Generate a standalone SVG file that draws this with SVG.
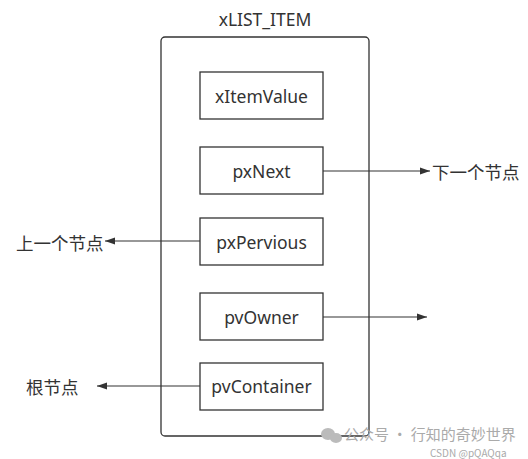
<svg xmlns="http://www.w3.org/2000/svg" width="528" height="459" viewBox="0 0 528 459">
<style>
.box{fill:#fff;stroke:#333;stroke-width:1.3}
.t{font-family:"Noto Sans","Liberation Sans",sans-serif;font-size:17.5px;fill:#333;text-anchor:middle;dominant-baseline:central}
.cn{font-family:"Noto Sans CJK SC",sans-serif;font-size:17.5px;fill:#333;dominant-baseline:central}
.ln{stroke:#333;stroke-width:1.2;fill:none}
.wm{font-family:"Noto Sans CJK SC",sans-serif;fill:#aaa}
</style>
<defs>
<marker id="ah" viewBox="0 0 10 10" refX="10" refY="5" markerWidth="10" markerHeight="10" markerUnits="userSpaceOnUse" orient="auto">
<path d="M0,1.5 L10,5 L0,8.5 Z" fill="#333"/>
</marker>
</defs>
<rect width="528" height="459" fill="#fff"/>
<text class="t" x="265" y="19">xLIST_ITEM</text>
<g id="container"><rect x="161" y="37" width="208" height="399" rx="4" fill="none" stroke="#333" stroke-width="1.3"/></g>
<g id="connectors">
<line class="ln" x1="323" y1="171" x2="430" y2="171" marker-end="url(#ah)"/>
<line class="ln" x1="200" y1="241" x2="105" y2="241" marker-end="url(#ah)"/>
<line class="ln" x1="323" y1="317" x2="427" y2="317" marker-end="url(#ah)"/>
<line class="ln" x1="200" y1="386" x2="97" y2="386" marker-end="url(#ah)"/>
</g>
<g id="xItemValue"><rect class="box" x="200" y="72" width="123" height="47"/><text class="t" x="261.5" y="96">xItemValue</text></g>
<g id="pxNext"><rect class="box" x="200" y="147" width="123" height="47"/><text class="t" x="261.5" y="171">pxNext</text></g>
<g id="pxPervious"><rect class="box" x="200" y="218" width="123" height="47"/><text class="t" x="261.5" y="242">pxPervious</text></g>
<g id="pvOwner"><rect class="box" x="200" y="293" width="123" height="47"/><text class="t" x="261.5" y="317">pvOwner</text></g>
<g id="pvContainer"><rect class="box" x="200" y="363" width="123" height="47"/><text class="t" x="261.5" y="386">pvContainer</text></g>
<g id="next-label"><text class="cn" x="432" y="171">下一个节点</text></g>
<g id="prev-label"><text class="cn" x="16" y="242">上一个节点</text></g>
<g id="root-label"><text class="cn" x="26" y="386">根节点</text></g>
<g id="watermark">
<ellipse cx="328" cy="434" rx="7" ry="6" fill="#bbb"/>
<ellipse cx="336" cy="438" rx="6" ry="5" fill="#bbb"/>
<text class="wm" x="344" y="440" font-size="15">公众号 · 行知的奇妙世界</text>
<text class="wm" x="430" y="457" font-size="10" fill="#999">CSDN @pQAQqa</text>
</g>
</svg>
